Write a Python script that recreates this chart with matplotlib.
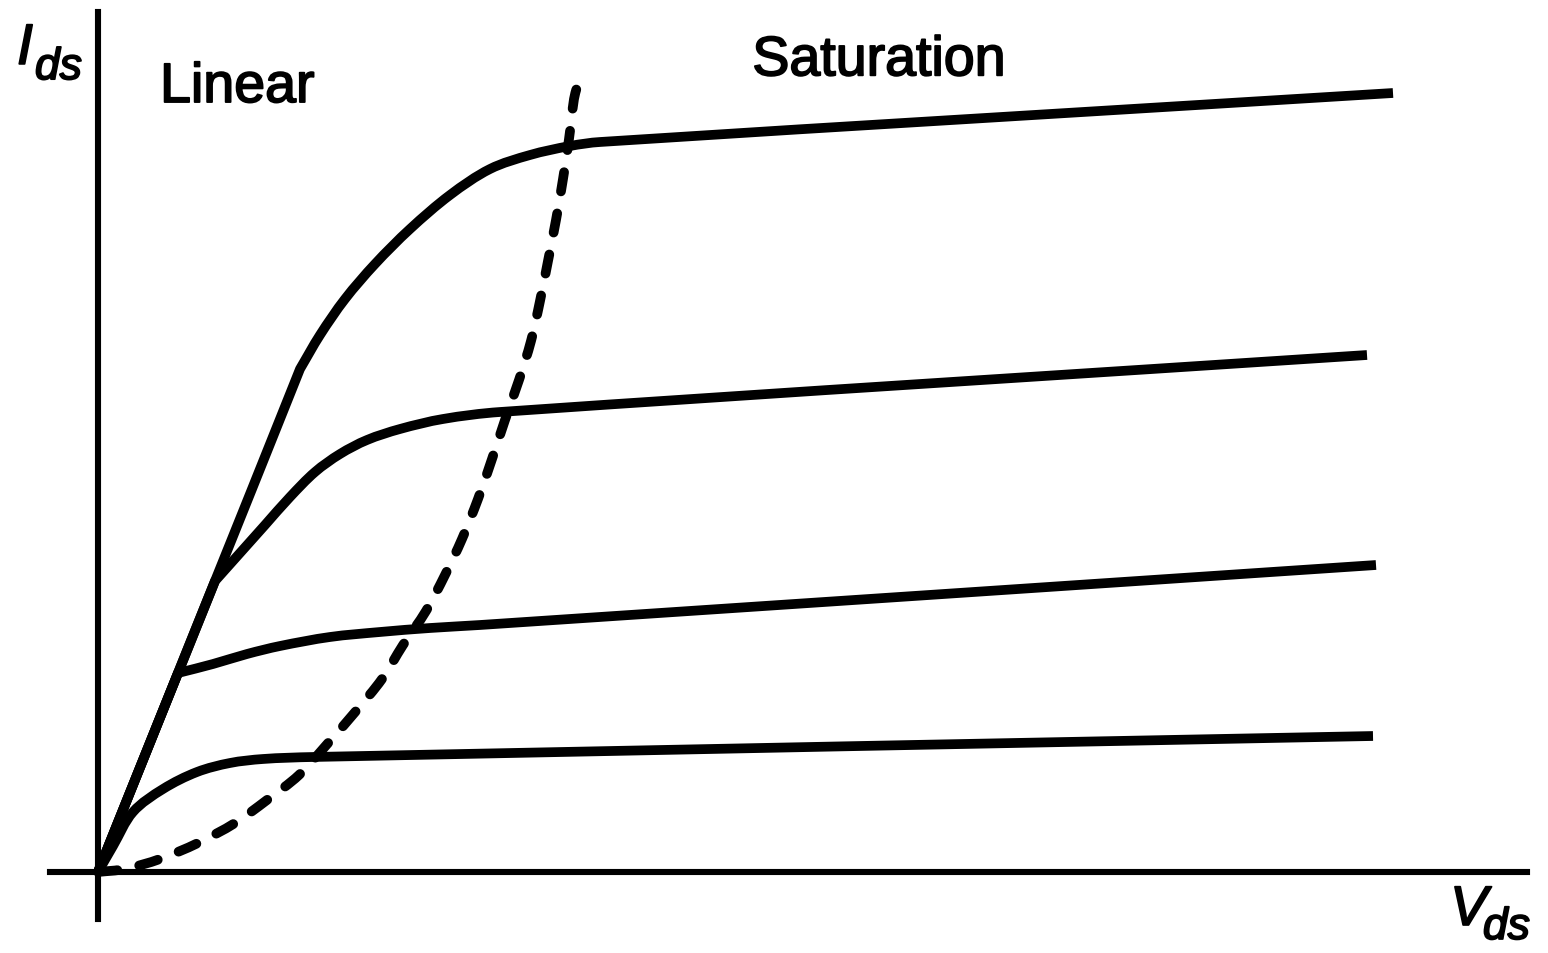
import matplotlib
matplotlib.use('Agg')
import numpy as np
import matplotlib.pyplot as plt
import matplotlib.patheffects as pe
from matplotlib.path import Path
from matplotlib.patches import PathPatch

# Output characteristics of a MOSFET (schematic): Ids against Vds for four gate voltages
# curves, arbitrary units

# top curve (highest Vgs)
vds_1 = [0, 0.82, 1.17, 1.54, 2.02, 2.22, 2.47, 2.77, 3.12, 3.52, 3.92, 4.32, 4.72, 5.02, 12.95]
ids_1 = [0, 2.04, 2.91, 3.83, 5.03, 5.37, 5.73, 6.08, 6.43, 6.77, 7.03, 7.17, 7.26, 7.30, 7.79]

vds_2 = [0, 1.17, 1.42, 1.67, 1.92, 2.17, 2.42, 2.69, 3.02, 3.45, 4.02, 12.69]
ids_2 = [0, 2.91, 3.19, 3.47, 3.75, 4.00, 4.18, 4.32, 4.43, 4.53, 4.60, 5.17]

vds_3 = [0, 0.80, 1.15, 1.49, 1.82, 2.32, 2.82, 3.32, 3.82, 12.78]
ids_3 = [0, 1.99, 2.08, 2.18, 2.26, 2.35, 2.40, 2.44, 2.47, 3.07]

# bottom curve (lowest Vgs)
vds_4 = [0, 0.15, 0.35, 0.65, 0.99, 1.32, 1.65, 2.15, 12.75]
ids_4 = [0, 0.26, 0.60, 0.83, 1.00, 1.09, 1.13, 1.15, 1.36]

# index where each curve leaves the straight ohmic line
knee_idx = [4, 1, 1, None]

# boundary between linear and saturation region (Vds = Vgs - Vt)
vds_sat = [0, 0.27, 0.62, 1.00, 1.37, 1.69, 2.01, 2.31, 2.58, 2.84, 3.05, 3.28, 3.47,
           3.64, 3.80, 3.94, 4.07, 4.21, 4.33, 4.42, 4.50, 4.58, 4.65, 4.71, 4.76, 4.79]
ids_sat = [0, 0.03, 0.13, 0.29, 0.49, 0.72, 0.97, 1.30, 1.61, 1.93, 2.27, 2.61, 2.97,
           3.33, 3.73, 4.13, 4.52, 4.92, 5.31, 5.71, 6.11, 6.52, 6.93, 7.33, 7.73, 7.85]

region_labels = ['Linear', 'Saturation']


def smooth_path(xs, ys, corner=None):
    # bezier path through the points, tangent broken at the corner index
    p = np.column_stack([xs, ys]).astype(float)
    n = len(p)
    tang = []
    for k in range(n):
        if k == 0 or k == corner:
            t_in = p[k] - p[k - 1] if k > 0 else p[1] - p[0]
            t_out = p[k + 1] - p[k]
        elif k == n - 1:
            t_in = t_out = p[k] - p[k - 1]
        else:
            t_in = t_out = p[k + 1] - p[k - 1]
        tang.append((t_in / np.linalg.norm(t_in), t_out / np.linalg.norm(t_out)))
    verts = [p[0]]
    codes = [Path.MOVETO]
    for k in range(n - 1):
        d = np.linalg.norm(p[k + 1] - p[k])
        verts += [p[k] + tang[k][1] * d / 3, p[k + 1] - tang[k + 1][0] * d / 3, p[k + 1]]
        codes += [Path.CURVE4] * 3
    return Path(verts, codes)


plt.rcParams['font.family'] = ['Liberation Sans', 'DejaVu Sans']

fig = plt.figure(figsize=(15.48, 9.54), dpi=100)
ax = fig.add_axes([0, 0, 1, 1])

lw = 7.0
curves = [(vds_1, ids_1), (vds_2, ids_2), (vds_3, ids_3), (vds_4, ids_4)]
for (v, i), knee in zip(curves, knee_idx):
    ax.add_patch(PathPatch(smooth_path(v, i, knee), fill=False, edgecolor='black', lw=lw,
                           capstyle='butt', joinstyle='round'))

sat = PathPatch(smooth_path(vds_sat, ids_sat), fill=False, edgecolor='black', lw=lw,
                linestyle=(0, (2.0, 2.3)), capstyle='round')
ax.add_patch(sat)

# axes drawn as crossing lines through the origin
ax.set_xlim(-0.98, 14.50)
ax.set_ylim(-0.81, 8.73)
for side in ['top', 'right']:
    ax.spines[side].set_visible(False)
ax.spines['left'].set_position(('data', 0))
ax.spines['bottom'].set_position(('data', 0))
ax.spines['left'].set_bounds(-0.47, 8.60)
ax.spines['bottom'].set_bounds(-0.48, 14.29)
ax.spines['left'].set_linewidth(4.4)
ax.spines['bottom'].set_linewidth(4.4)
ax.set_xticks([])
ax.set_yticks([])
ax.patch.set_alpha(0)

# region and axis labels (slightly thickened like the printed original)
bold = [pe.withStroke(linewidth=1.3, foreground='black')]
ax.text(0.1034, 0.892, region_labels[0], transform=ax.transAxes, fontsize=40,
        va='baseline', path_effects=bold)
ax.text(0.486, 0.920, region_labels[1], transform=ax.transAxes, fontsize=40,
        va='baseline', path_effects=bold)

ax.text(0.0110, 0.932, 'I', transform=ax.transAxes, fontsize=41, style='italic',
        va='baseline', path_effects=bold)
ax.text(0.0226, 0.916, 'ds', transform=ax.transAxes, fontsize=32, style='italic',
        va='baseline', path_effects=bold)
ax.text(0.9368, 0.0294, 'V', transform=ax.transAxes, fontsize=40, style='italic',
        va='baseline', path_effects=bold)
ax.text(0.958, 0.0147, 'ds', transform=ax.transAxes, fontsize=32, style='italic',
        va='baseline', path_effects=bold)

fig.savefig('out.png', dpi=100, facecolor='white')
